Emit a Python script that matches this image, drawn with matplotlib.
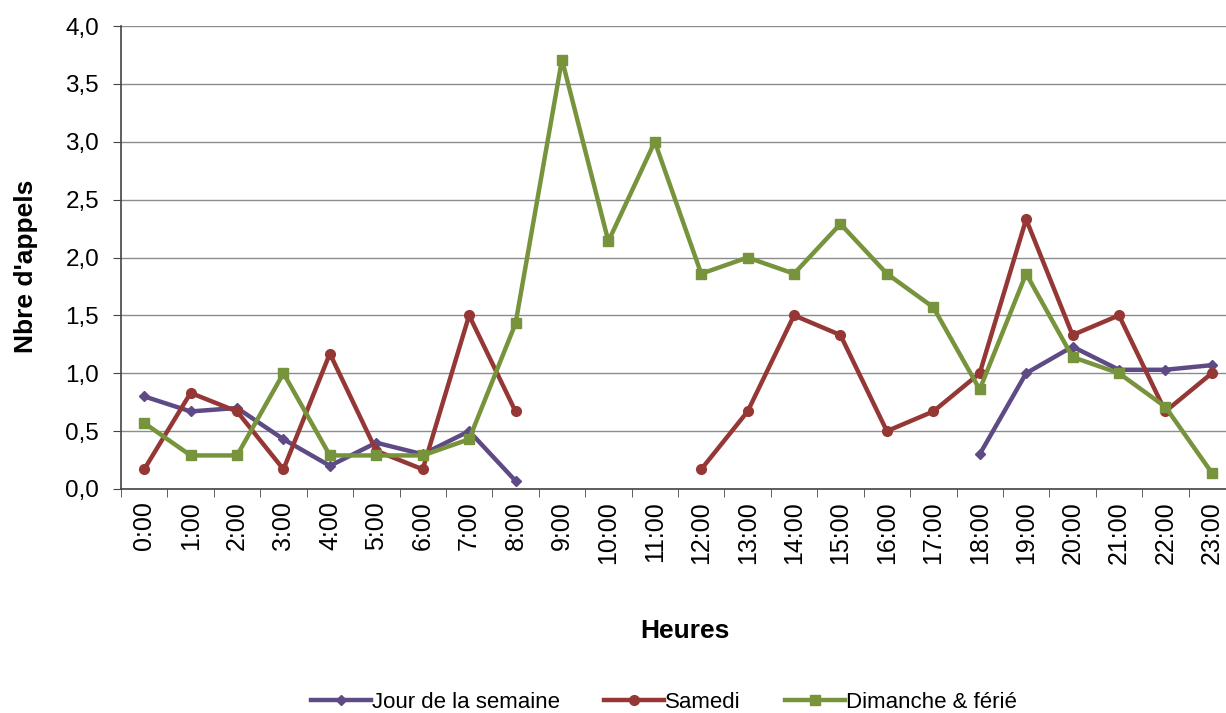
import matplotlib
matplotlib.use("Agg")
import matplotlib.pyplot as plt
import numpy as np

plt.rcParams['font.family'] = ['Liberation Sans', 'DejaVu Sans']

heures = ["%d:00" % h for h in range(24)]

jour = [0.80, 0.67, 0.70, 0.43, 0.20, 0.40, 0.30, 0.50, 0.07,
        None, None, None, None, None, None, None, None, None,
        0.30, 1.00, 1.23, 1.03, 1.03, 1.07]
samedi = [0.17, 0.83, 0.67, 0.17, 1.17, 0.33, 0.17, 1.50, 0.67,
          None, None, None,
          0.17, 0.67, 1.50, 1.33, 0.50, 0.67, 1.00, 2.33, 1.33, 1.50, 0.67, 1.00]
dimanche = [0.57, 0.29, 0.29, 1.00, 0.29, 0.29, 0.29, 0.43, 1.43, 3.71,
            2.14, 3.00, 1.86, 2.00, 1.86, 2.29, 1.86, 1.57, 0.86, 1.86,
            1.14, 1.00, 0.71, 0.14]

noms = ["Jour de la semaine", "Samedi", "Dimanche & férié"]
couleurs = ["#5E4B86", "#953735", "#77933C"]

def arr(v):
    return np.array([np.nan if a is None else a for a in v], dtype=float)

fig = plt.figure(figsize=(12.26, 7.13), dpi=100)
ax = fig.add_axes([121/1226, 1 - 489/713, (1235 - 121)/1226, (489 - 26)/713])

x = np.arange(len(heures))
ax.plot(x, arr(jour), color=couleurs[0], lw=3.2, marker='D', ms=5, label=noms[0])
ax.plot(x, arr(samedi), color=couleurs[1], lw=3.2, marker='o', ms=7, label=noms[1])
ax.plot(x, arr(dimanche), color=couleurs[2], lw=3.2, marker='s', ms=7, label=noms[2])

ax.set_xlim(-0.5, 23.5)
ax.set_ylim(0, 4.0)
yt = np.arange(0, 4.01, 0.5)
ax.set_yticks(yt)
ax.set_yticklabels([("%.1f" % v).replace('.', ',') for v in yt], fontsize=17.5)
ax.set_xticks(x)
ax.set_xticklabels(heures, rotation=90, fontsize=18)
ax.set_xticks(np.arange(-0.5, 24, 1), minor=True)
ax.tick_params(axis='x', which='major', length=0, pad=9)
ax.tick_params(axis='x', which='minor', length=5.5, direction='out', color='#444444')
ax.tick_params(axis='y', length=5.8, direction='out', color='#444444', pad=10)

ax.grid(axis='y', color='#8C8C8C', lw=1)
ax.set_axisbelow(True)
for s in ['top', 'right']:
    ax.spines[s].set_visible(False)
for s in ['left', 'bottom']:
    ax.spines[s].set_color('#444444')
    ax.spines[s].set_linewidth(1.2)

ax.set_ylabel("Nbre d'appels", fontsize=19, fontweight='bold')
ax.yaxis.set_label_coords((38 - 121) / 1114, (489 - 266) / 463)
ax.set_xlabel("Heures", fontsize=19, fontweight='bold')
ax.xaxis.set_label_coords((685 - 121) / 1114, -(619 - 489) / 463)

fig.legend(loc='center', bbox_to_anchor=(664/1226, 1 - 702/713), ncol=3, frameon=False,
           fontsize=16, handlelength=2.7, handletextpad=0.05, columnspacing=2.0)

fig.savefig("out.png", dpi=100)
